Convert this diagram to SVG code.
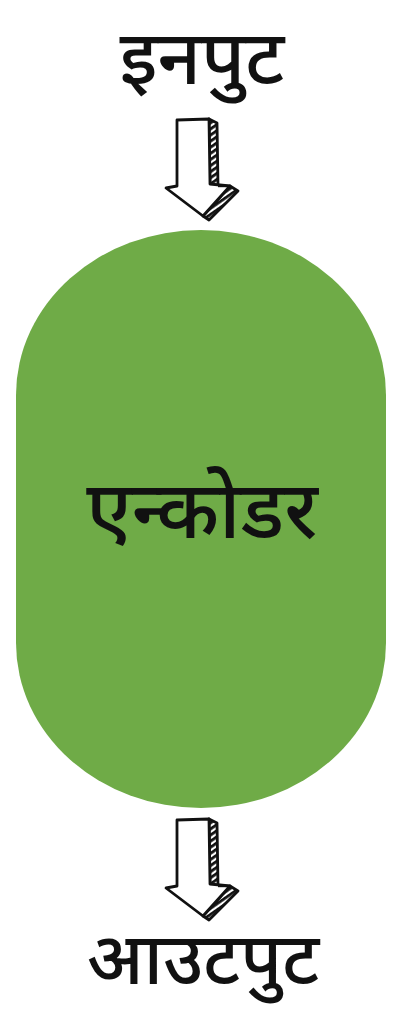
<svg xmlns="http://www.w3.org/2000/svg" width="404" height="1014" viewBox="0 0 404 1014">
<style>
.lbl{font-family:"Noto Sans Devanagari","Noto Sans","Lato",sans-serif;font-weight:500;fill:#111;text-anchor:middle}
.ol{fill:#fff;stroke:#111;stroke-width:2.8;stroke-linejoin:round;stroke-linecap:round}
.hs{fill:url(#hatch);stroke:#111;stroke-width:2.8;stroke-linejoin:round}
</style>
<defs>
<pattern id="hatch" patternUnits="userSpaceOnUse" width="5" height="5" patternTransform="rotate(-35)">
<rect width="5" height="5" fill="#fff"/>
<rect width="5" height="2.8" fill="#111"/>
</pattern>
<g id="arrow">
<path class="hs" d="M209,119 L217,123 L218,187 L210,184 Z"/>
<path class="hs" d="M230,186 L238,191 L209,220 L203,216 Z"/>
<path class="ol" d="M177,120 L209,119 L210,184 L230,186 L203,216 L166,188 L177,186 Z"/>
<path fill="none" stroke="#111" stroke-width="2.4" d="M218,186 L230,186"/>
</g>
</defs>
<rect width="404" height="1014" fill="#fff"/>
<g id="input">
<text class="lbl" x="202" y="84" font-size="76">इनपुट</text>
</g>
<g id="encoder">
<rect x="16" y="230" width="370" height="578" rx="185" ry="165" fill="#6fab47"/>
<text class="lbl" x="202" y="538" font-size="80">एन्कोडर</text>
</g>
<g id="output">
<text class="lbl" x="203" y="984" font-size="72">आउटपुट</text>
</g>
<g id="connectors">
<use href="#arrow"/>
<use href="#arrow" transform="translate(0,700)"/>
</g>
</svg>
